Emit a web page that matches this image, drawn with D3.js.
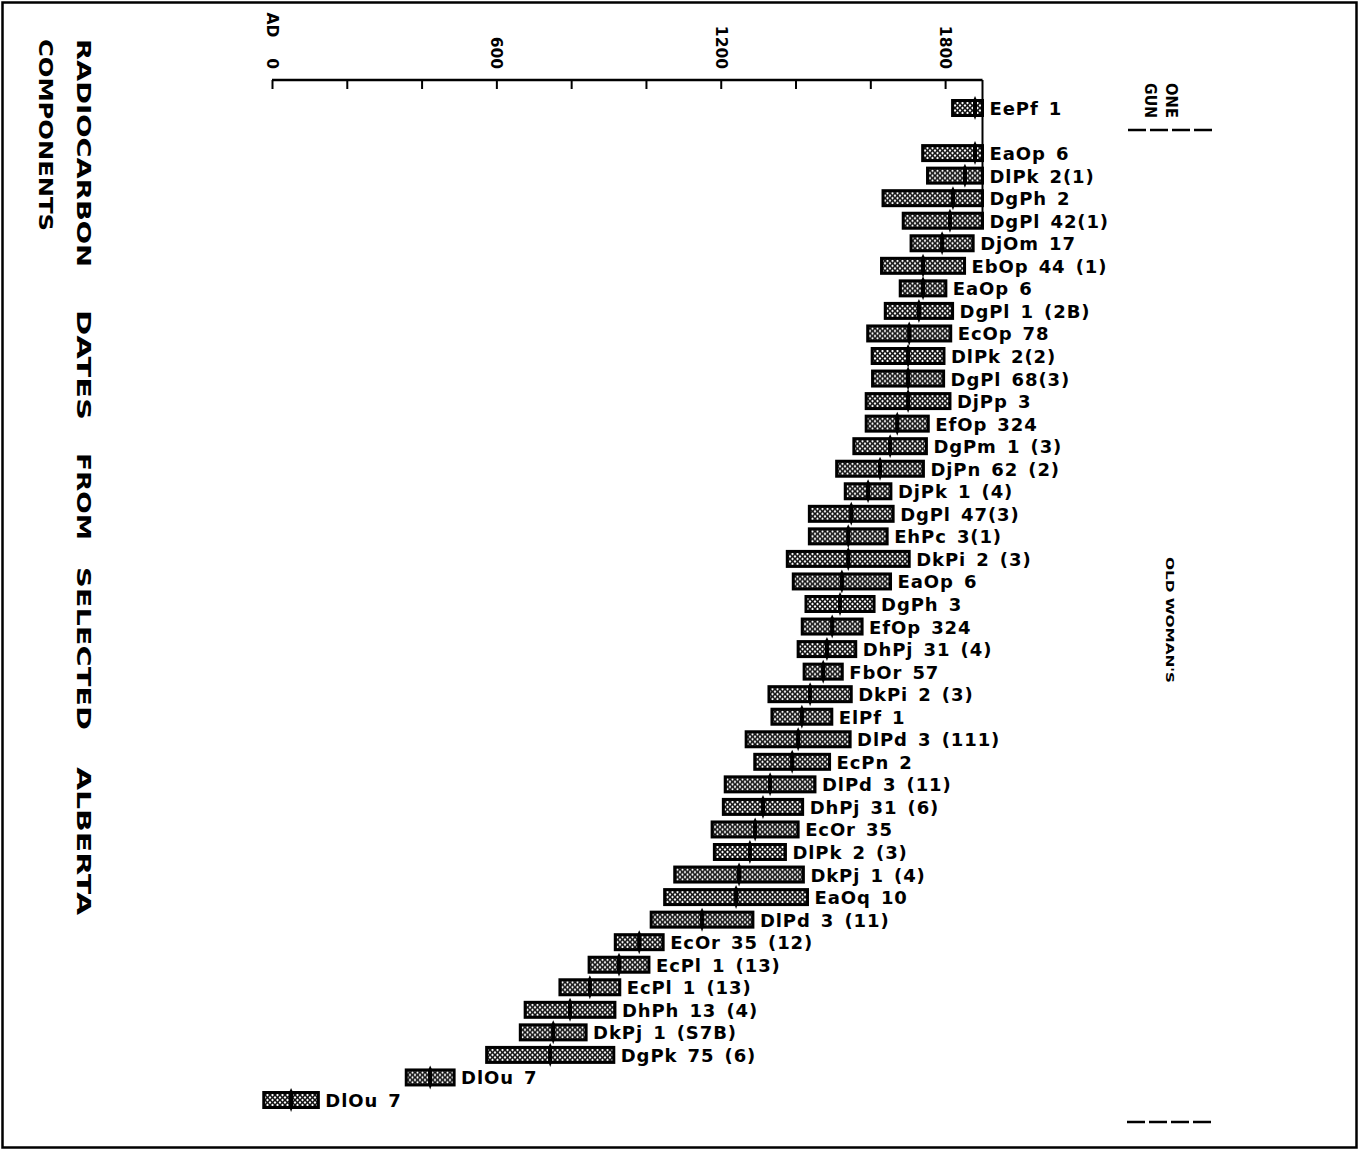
<!DOCTYPE html>
<html>
<head>
<meta charset="utf-8">
<script src="https://cdn.jsdelivr.net/npm/d3@7"></script>
<style>
  html, body { margin: 0; padding: 0; background: #fff; }
  svg { display: block; }
</style>
</head>
<body>
<svg id="chart" width="1359" height="1150"></svg>
<script>
// Site components, top to bottom (null = blank row between the two groups)
const labels = [
  "EePf 1", null,
  "EaOp 6", "DlPk 2(1)", "DgPh 2", "DgPl 42(1)", "DjOm 17", "EbOp 44 (1)", "EaOp 6",
  "DgPl 1 (2B)", "EcOp 78", "DlPk 2(2)", "DgPl 68(3)", "DjPp 3", "EfOp 324",
  "DgPm 1 (3)", "DjPn 62 (2)", "DjPk 1 (4)", "DgPl 47(3)", "EhPc 3(1)", "DkPi 2 (3)",
  "EaOp 6", "DgPh 3", "EfOp 324", "DhPj 31 (4)", "FbOr 57", "DkPi 2 (3)", "ElPf 1",
  "DlPd 3 (111)", "EcPn 2", "DlPd 3 (11)", "DhPj 31 (6)", "EcOr 35", "DlPk 2 (3)",
  "DkPj 1 (4)", "EaOq 10", "DlPd 3 (11)", "EcOr 35 (12)", "EcPl 1 (13)",
  "EcPl 1 (13)", "DhPh 13 (4)", "DkPj 1 (S7B)", "DgPk 75 (6)", "DlOu 7", "DlOu 7"
];
// Radiocarbon date (years AD) for each row
const dates = [
  1880, null,
  1880, 1853, 1821, 1813, 1792, 1741, 1741,
  1730, 1704, 1701, 1701, 1701, 1672,
  1653, 1626, 1594, 1549, 1541, 1541,
  1524, 1519, 1498, 1484, 1474, 1439, 1417,
  1407, 1391, 1332, 1313, 1292, 1278,
  1249, 1241, 1150, 982, 928,
  850, 797, 752, 744, 423, 51
];
// Error range (± years) for each row
const errors = [
  60, null,
  140, 100, 187, 125, 83, 111, 61,
  90, 111, 96, 95, 112, 83,
  97, 116, 61, 112, 104, 163,
  130, 91, 80, 77, 51, 110, 80,
  139, 100, 120, 106, 115, 95,
  172, 191, 136, 64, 80,
  80, 120, 88, 170, 64, 73
];
const tickYears = [0, 200, 400, 600, 800, 1000, 1200, 1400, 1600, 1800];
const labelledTicks = { 0: "AD\u2003 0", 600: "600", 1200: "1200", 1800: "1800" };
const presentYear = 1900;
const titleLine1 = ["RADIOCARBON", "DATES", "FROM", "SELECTED", "ALBERTA"];
const titleLine2 = ["COMPONENTS"];

const rows = labels.map((label, i) => ({ i, label, date: dates[i], err: errors[i] }))
  .filter(d => d.label !== null);

const svg = d3.select("#chart");

// frame
svg.append("rect")
  .attr("x", 2.5).attr("y", 2.5).attr("width", 1354).attr("height", 1145)
  .attr("fill", "none").attr("stroke", "#000").attr("stroke-width", 2.5);

// crosshatch fill for the range bars: black diagonals, white diamonds between
const defs = svg.append("defs");
const pat = defs.append("pattern")
  .attr("id", "hatch").attr("patternUnits", "userSpaceOnUse")
  .attr("width", 5).attr("height", 5);
pat.append("rect").attr("width", 5).attr("height", 5).attr("fill", "#111");
const r = 1.4;
const diamond = (cx, cy) => `M${cx},${cy - r} L${cx + r},${cy} L${cx},${cy + r} L${cx - r},${cy}Z`;
pat.append("path")
  .attr("d", [diamond(2.5, 0), diamond(0, 2.5), diamond(5, 2.5), diamond(2.5, 5)].join(" "))
  .attr("fill", "#fff");

const x = d3.scaleLinear().domain([0, presentYear]).range([272, 982.5]);
const y = d3.scalePoint().domain(d3.range(labels.length)).range([108, 1100]);
const axisY = 80;

// time axis
const axis = d3.axisTop(x)
  .tickValues(tickYears)
  .tickSizeInner(-9)
  .tickSizeOuter(0)
  .tickFormat(v => labelledTicks[v] || "");

const gAxis = svg.append("g")
  .attr("transform", `translate(0,${axisY})`)
  .call(axis);
gAxis.select(".domain").attr("stroke", "#000").attr("stroke-width", 2.5)
  .attr("d", `M${x(0)},0H${x(presentYear)}`);
gAxis.selectAll(".tick line").attr("stroke", "#000").attr("stroke-width", 2);
gAxis.selectAll(".tick text")
  .attr("transform", "rotate(90)")
  .attr("x", -11).attr("y", 0).attr("dy", "0.36em")
  .attr("text-anchor", "end")
  .attr("fill", "#000")
  .style("font-family", "'DejaVu Sans', sans-serif")
  .style("font-weight", "bold")
  .style("font-size", "15.5px");

// present-day line at the end of the axis
const firstGroupEnd = 5;
svg.append("line")
  .attr("x1", x(presentYear)).attr("x2", x(presentYear))
  .attr("y1", axisY).attr("y2", y(firstGroupEnd) + 8)
  .attr("stroke", "#000").attr("stroke-width", 2);

// range bars (clipped at the present)
const barH = 15;
const gRows = svg.append("g");
const row = gRows.selectAll("g.row").data(rows).join("g").attr("class", "row")
  .attr("transform", d => `translate(0,${y(d.i)})`);

const lo = d => x(d.date - d.err);
const hi = d => x(Math.min(d.date + d.err, presentYear));

row.append("rect")
  .attr("x", lo).attr("y", -barH / 2)
  .attr("width", d => hi(d) - lo(d)).attr("height", barH)
  .attr("fill", "url(#hatch)").attr("stroke", "#000").attr("stroke-width", 3);

// dark band and pointer at the mean date
row.append("rect")
  .attr("x", d => x(d.date) - 2).attr("y", -barH / 2)
  .attr("width", 4).attr("height", barH).attr("fill", "#000");
row.append("path")
  .attr("d", d => {
    const c = x(d.date);
    return `M${c},-12 L${c + 1.8},-8 L${c + 1.4},8 L${c},12 L${c - 1.4},8 L${c - 1.8},-8Z`;
  })
  .attr("fill", "#000");

row.append("text")
  .attr("x", d => hi(d) + 7).attr("y", 7)
  .text(d => d.label)
  .attr("fill", "#000")
  .style("font-family", "'DejaVu Sans', sans-serif")
  .style("font-weight", "bold")
  .style("font-size", "18px")
  .style("letter-spacing", "0.9px")
  .style("word-spacing", "3px");

// vertical title
function titleWords(words, bx, starts, lengths) {
  words.forEach((w, k) => {
    svg.append("text")
      .attr("transform", `translate(${bx},${starts[k]}) rotate(90)`)
      .attr("textLength", lengths[k]).attr("lengthAdjust", "spacingAndGlyphs")
      .text(w)
      .attr("fill", "#000")
      .style("font-family", "'DejaVu Sans', sans-serif")
      .style("font-weight", "bold")
      .style("font-size", "19.5px");
  });
}
titleWords(titleLine1, 77, [39, 310, 453, 567, 767], [228, 110, 87, 163, 148]);
titleWords(titleLine2, 39, [39], [192]);

// site group captions
function sideText(t, bx, by, len, size) {
  svg.append("text")
    .attr("transform", `translate(${bx},${by}) rotate(90)`)
    .attr("textLength", len).attr("lengthAdjust", "spacingAndGlyphs")
    .text(t)
    .attr("fill", "#000")
    .style("font-family", "'DejaVu Sans', sans-serif")
    .style("font-weight", "bold")
    .style("font-size", size + "px");
}
sideText("ONE", 1166, 83, 35, 15);
sideText("GUN", 1145, 83, 35, 15);
sideText("OLD  WOMAN'S", 1166, 557, 126, 11);

// dashed group separators
[[130, 1128, 1212], [1122, 1127, 1215]].forEach(([yy, a, b]) => {
  svg.append("line")
    .attr("x1", a).attr("x2", b).attr("y1", yy).attr("y2", yy)
    .attr("stroke", "#000").attr("stroke-width", 2.5)
    .attr("stroke-dasharray", "18,4");
});
</script>
</body>
</html>
